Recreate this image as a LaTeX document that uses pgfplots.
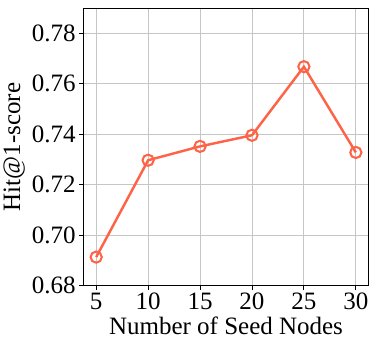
\documentclass[border=0pt]{standalone}
\usepackage{pgfplots}
\pgfplotsset{compat=1.18}
\usepackage{fontspec}
\setmainfont{Liberation Serif}
\definecolor{ctomato}{HTML}{FF6347}
\begin{document}
\begin{tikzpicture}
\begin{axis}[
  scale only axis,
  width=280pt, height=272pt,
  xmin=3.75, xmax=31.25,
  ymin=0.68, ymax=0.79,
  xtick={5,10,15,20,25,30},
  ytick={0.68,0.70,0.72,0.74,0.76,0.78},
  yticklabel style={/pgf/number format/fixed,/pgf/number format/fixed zerofill,/pgf/number format/precision=2},
  /pgf/number format/assume math mode=true,
  ticklabel style={font=\fontsize{24.5}{26}\selectfont},
  label style={font=\fontsize{24.5}{26}\selectfont},
  xlabel={Number of Seed Nodes},
  ylabel={Hit@1-score},
  tick align=outside, tick pos=left,
  major tick length=4pt,
  grid=major, grid style={gray!45,line width=0.8pt},
  axis line style={line width=0.9pt},
  every tick/.style={black,line width=0.8pt},
]
\addplot[ctomato,line width=2.4pt,mark=o,mark size=5.5pt,mark options={line width=2pt}]
 coordinates {(5,0.6913) (10,0.7297) (15,0.7352) (20,0.7396) (25,0.7668) (30,0.7328)};
\coordinate (bl) at (rel axis cs:0,0);
\coordinate (tr) at (rel axis cs:1,1);
\end{axis}
\path (bl) ++(0,-69pt);
\path (tr) ++(9pt,8pt);
\end{tikzpicture}
\end{document}
